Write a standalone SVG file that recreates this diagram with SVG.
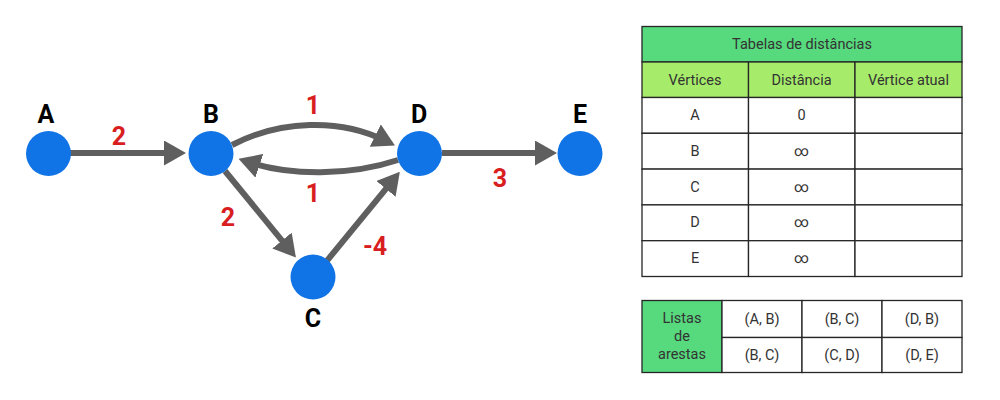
<svg xmlns="http://www.w3.org/2000/svg" width="1000" height="400" viewBox="0 0 1000 400">
  <style>
    .node { fill: #1174E6; }
    .nlabel { font-family: Roboto, "Liberation Sans", sans-serif; font-weight: 700; font-size: 25px; fill: #000; text-anchor: middle; }
    .wlabel { font-family: Roboto, "Liberation Sans", sans-serif; font-weight: 700; font-size: 25px; fill: #D81E1E; text-anchor: middle; }
    .edge { fill: none; stroke: #5F5F5F; stroke-width: 6; marker-end: url(#arrow); }
    .cell { fill: #FFFFFF; stroke: #262626; stroke-width: 1.3; }
    .hdr { fill: #57D97E; stroke: #262626; stroke-width: 1.3; }
    .sub { fill: #A6EC6A; stroke: #262626; stroke-width: 1.3; }
    .t { font-family: Roboto, "Liberation Sans", sans-serif; font-size: 14.5px; fill: #333; text-anchor: middle; dominant-baseline: central; }
  </style>
  <defs>
    <marker id="arrow" markerUnits="userSpaceOnUse" markerWidth="22" markerHeight="25" viewBox="0 0 22 25" refX="12" refY="12.5" orient="auto">
      <path d="M0,0 L22,12.5 L0,25 z" fill="#5F5F5F"/>
    </marker>
  </defs>
  <rect width="1000" height="400" fill="#FFFFFF"/>

  <g id="connectors">
    <line class="edge" x1="70" y1="153" x2="176" y2="153"/>
    <path class="edge" d="M232,145 C280,120 340,118 386,141"/>
    <path class="edge" d="M398,160 C350,176 290,176 248,162"/>
    <line class="edge" x1="225" y1="171" x2="289.6" y2="249.8"/>
    <line class="edge" x1="327.3" y1="260.3" x2="393.5" y2="179.6"/>
    <line class="edge" x1="442" y1="153" x2="547" y2="153"/>
    <text class="wlabel" x="119" y="145">2</text>
    <text class="wlabel" x="313" y="114">1</text>
    <text class="wlabel" x="313" y="202">1</text>
    <text class="wlabel" x="228" y="226">2</text>
    <text class="wlabel" x="375" y="255">-4</text>
    <text class="wlabel" x="500" y="187">3</text>
  </g>

  <g id="node-A">
    <circle class="node" cx="48.5" cy="153.5" r="22.5"/>
    <text class="nlabel" x="46" y="123">A</text>
  </g>
  <g id="node-B">
    <circle class="node" cx="211" cy="153.5" r="22.5"/>
    <text class="nlabel" x="211" y="123">B</text>
  </g>
  <g id="node-C">
    <circle class="node" cx="313" cy="277" r="22.5"/>
    <text class="nlabel" x="313" y="327">C</text>
  </g>
  <g id="node-D">
    <circle class="node" cx="419.5" cy="153.5" r="22.5"/>
    <text class="nlabel" x="419" y="123">D</text>
  </g>
  <g id="node-E">
    <circle class="node" cx="580" cy="153.5" r="22.5"/>
    <text class="nlabel" x="580" y="123">E</text>
  </g>

  <g id="distance-table">
    <rect class="hdr" x="642" y="26.5" width="320" height="35.5"/>
    <text class="t" x="802" y="44.5">Tabelas de distâncias</text>
    <rect class="sub" x="642" y="62" width="106.5" height="35.5"/>
    <rect class="sub" x="748.5" y="62" width="106.5" height="35.5"/>
    <rect class="sub" x="855" y="62" width="107" height="35.5"/>
    <text class="t" x="695" y="80">Vértices</text>
    <text class="t" x="801.5" y="80">Distância</text>
    <text class="t" x="908.5" y="80">Vértice atual</text>

    <rect class="cell" x="642" y="97.5" width="106.5" height="35.8"/>
    <rect class="cell" x="748.5" y="97.5" width="106.5" height="35.8"/>
    <rect class="cell" x="855" y="97.5" width="107" height="35.8"/>
    <text class="t" x="695" y="115.5">A</text>
    <text class="t" x="801.5" y="115.5">0</text>

    <rect class="cell" x="642" y="133.3" width="106.5" height="35.8"/>
    <rect class="cell" x="748.5" y="133.3" width="106.5" height="35.8"/>
    <rect class="cell" x="855" y="133.3" width="107" height="35.8"/>
    <text class="t" x="695" y="151">B</text>
    <text class="t" x="801.5" y="151">∞</text>

    <rect class="cell" x="642" y="169.1" width="106.5" height="35.8"/>
    <rect class="cell" x="748.5" y="169.1" width="106.5" height="35.8"/>
    <rect class="cell" x="855" y="169.1" width="107" height="35.8"/>
    <text class="t" x="695" y="187">C</text>
    <text class="t" x="801.5" y="187">∞</text>

    <rect class="cell" x="642" y="204.9" width="106.5" height="35.8"/>
    <rect class="cell" x="748.5" y="204.9" width="106.5" height="35.8"/>
    <rect class="cell" x="855" y="204.9" width="107" height="35.8"/>
    <text class="t" x="695" y="222.8">D</text>
    <text class="t" x="801.5" y="222.8">∞</text>

    <rect class="cell" x="642" y="240.7" width="106.5" height="35.8"/>
    <rect class="cell" x="748.5" y="240.7" width="106.5" height="35.8"/>
    <rect class="cell" x="855" y="240.7" width="107" height="35.8"/>
    <text class="t" x="695" y="258.5">E</text>
    <text class="t" x="801.5" y="258.5">∞</text>
  </g>

  <g id="edge-list">
    <rect class="hdr" x="642" y="300.5" width="80" height="72"/>
    <text class="t" x="682" y="318.5">Listas</text>
    <text class="t" x="682" y="336.5">de</text>
    <text class="t" x="682" y="354.5">arestas</text>
    <rect class="cell" x="722" y="300.5" width="80" height="37"/>
    <rect class="cell" x="802" y="300.5" width="80" height="37"/>
    <rect class="cell" x="882" y="300.5" width="80" height="37"/>
    <rect class="cell" x="722" y="337.5" width="80" height="35"/>
    <rect class="cell" x="802" y="337.5" width="80" height="35"/>
    <rect class="cell" x="882" y="337.5" width="80" height="35"/>
    <text class="t" x="762" y="319">(A, B)</text>
    <text class="t" x="842" y="319">(B, C)</text>
    <text class="t" x="922" y="319">(D, B)</text>
    <text class="t" x="762" y="355">(B, C)</text>
    <text class="t" x="842" y="355">(C, D)</text>
    <text class="t" x="922" y="355">(D, E)</text>
  </g>
</svg>
